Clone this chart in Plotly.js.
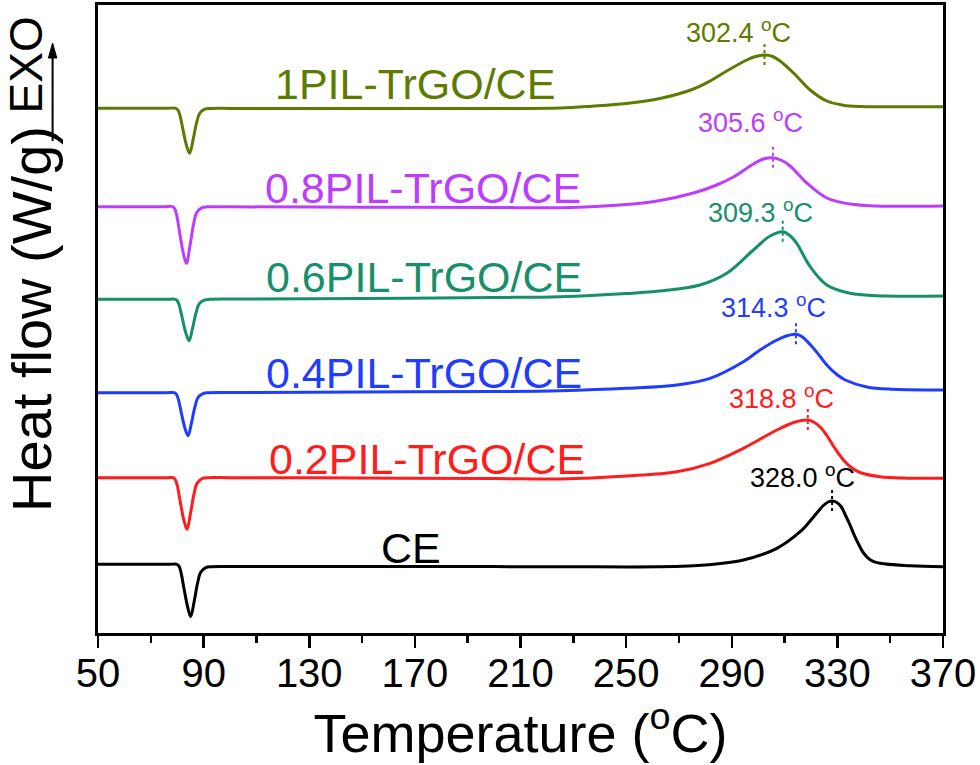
<!DOCTYPE html>
<html><head><meta charset="utf-8">
<script src="https://cdn.plot.ly/plotly-3.0.1.min.js"></script>
<style>html,body{margin:0;padding:0;background:#fff;} #chart{width:980px;height:765px;}</style>
</head><body><div id="chart"></div>
<script>
// ---- data (heat flow in offset units) ----
const seriesNames = ['1PIL-TrGO/CE', '0.8PIL-TrGO/CE', '0.6PIL-TrGO/CE', '0.4PIL-TrGO/CE', '0.2PIL-TrGO/CE', 'CE'];
const peakTemps = [302.4, 305.6, 309.3, 314.3, 318.8, 328.0];

const temp1PIL = [50, 65, 76, 79.5, 80.3, 81.0, 82.2, 83.5, 84.7, 86.0, 87.3, 88.5, 90.4, 92.7, 100, 150, 200, 225, 237, 250, 262.8, 275.5, 281.8, 288.1, 295.7, 299.0, 302.4, 305.5, 308.3, 313.4, 319.7, 326.0, 332.3, 338.6, 350, 370];
const flow1PIL = [5.247, 5.247, 5.247, 5.247, 5.229, 5.180, 5.031, 4.878, 4.797, 4.932, 5.098, 5.197, 5.238, 5.245, 5.246, 5.246, 5.246, 5.250, 5.268, 5.295, 5.345, 5.440, 5.520, 5.620, 5.730, 5.765, 5.780, 5.765, 5.720, 5.600, 5.430, 5.320, 5.278, 5.265, 5.263, 5.263];

const temp08PIL = [50, 65, 75, 78.3, 79.1, 79.8, 81.0, 82.3, 83.5, 84.8, 86.1, 87.3, 89.2, 91.5, 100, 150, 200, 225, 250.2, 262.8, 275.5, 284.3, 290.6, 298.2, 302.0, 305.6, 309.0, 312.1, 318.4, 326.0, 334.8, 345, 370];
const flow08PIL = [4.263, 4.263, 4.263, 4.263, 4.240, 4.178, 3.991, 3.799, 3.697, 3.867, 4.076, 4.201, 4.252, 4.262, 4.262, 4.258, 4.255, 4.253, 4.285, 4.325, 4.400, 4.480, 4.560, 4.690, 4.740, 4.753, 4.725, 4.670, 4.500, 4.350, 4.290, 4.270, 4.270];

const temp06PIL = [50, 65, 76, 79.3, 80.1, 80.8, 82.0, 83.3, 84.5, 85.8, 87.1, 88.3, 90.2, 92.5, 100, 150, 200, 225, 250.2, 262.8, 278.0, 288.1, 298.2, 304.5, 309.3, 312.0, 314.6, 319.7, 326.0, 334.8, 345, 370];
const flow06PIL = [3.337, 3.337, 3.337, 3.337, 3.320, 3.275, 3.138, 2.998, 2.923, 3.047, 3.200, 3.291, 3.329, 3.337, 3.340, 3.345, 3.355, 3.363, 3.395, 3.420, 3.480, 3.597, 3.830, 3.970, 4.013, 3.975, 3.897, 3.663, 3.480, 3.397, 3.373, 3.370];

const temp04PIL = [50, 65, 76, 78.9, 79.7, 80.4, 81.6, 82.9, 84.1, 85.4, 86.7, 87.9, 89.8, 92.1, 100, 150, 200, 225, 250.2, 269.2, 281.8, 294.4, 300.7, 307.1, 310.9, 314.3, 316.5, 319.7, 323.5, 326.0, 329.8, 333.0, 341.2, 351.3, 370];
const flow04PIL = [2.403, 2.403, 2.403, 2.403, 2.386, 2.339, 2.197, 2.050, 1.973, 2.102, 2.261, 2.356, 2.394, 2.403, 2.405, 2.410, 2.415, 2.423, 2.447, 2.480, 2.547, 2.713, 2.830, 2.930, 2.973, 2.987, 2.965, 2.885, 2.765, 2.680, 2.585, 2.530, 2.460, 2.437, 2.430];

const temp02PIL = [50, 65, 76, 78.5, 79.3, 80.0, 81.2, 82.5, 83.7, 85.0, 86.3, 87.5, 89.4, 91.7, 100, 150, 200, 225, 250.2, 269.2, 281.8, 294.4, 307.1, 313.4, 316.5, 318.8, 321.0, 323.5, 326.0, 329.0, 332.3, 335.5, 338.6, 346.2, 370];
const flow02PIL = [1.553, 1.553, 1.553, 1.553, 1.532, 1.476, 1.305, 1.130, 1.037, 1.192, 1.383, 1.496, 1.543, 1.553, 1.553, 1.550, 1.545, 1.540, 1.570, 1.613, 1.697, 1.847, 2.030, 2.105, 2.125, 2.130, 2.110, 2.060, 1.975, 1.850, 1.730, 1.650, 1.605, 1.563, 1.547];

const tempCE = [50, 65, 77, 79.9, 80.7, 81.4, 82.6, 83.9, 85.1, 86.4, 87.7, 88.9, 90.8, 93.1, 100, 150, 200, 225, 275.5, 294.4, 307.1, 315.9, 320.0, 322.2, 324.7, 326.5, 328.0, 329.8, 331.5, 333.2, 334.8, 336.1, 338.0, 339.9, 342.5, 346.2, 357.6, 370];
const flowCE = [0.687, 0.687, 0.687, 0.687, 0.667, 0.608, 0.440, 0.267, 0.163, 0.313, 0.498, 0.608, 0.653, 0.663, 0.665, 0.665, 0.664, 0.663, 0.672, 0.730, 0.847, 1.013, 1.130, 1.200, 1.275, 1.310, 1.320, 1.305, 1.260, 1.170, 1.080, 0.997, 0.890, 0.800, 0.730, 0.697, 0.673, 0.663];

const xTickVals = [50, 90, 130, 170, 210, 250, 290, 330, 370];

// ---- styling ----
const FONT = 'Liberation Sans, Arial, Helvetica, sans-serif';
const colors = ['#5d7b00', '#bd3dff', '#16906a', '#1f3dff', '#ff1c1c', '#000000'];
const temps = [temp1PIL, temp08PIL, temp06PIL, temp04PIL, temp02PIL, tempCE];
const flows = [flow1PIL, flow08PIL, flow06PIL, flow04PIL, flow02PIL, flowCE];

const traces = seriesNames.map((name, i) => ({
  type: 'scatter', mode: 'lines', name: name,
  x: temps[i], y: flows[i],
  line: {color: colors[i], width: 3, shape: 'spline', smoothing: 1},
  hoverinfo: 'x+y+name'
}));

// peak heat-flow values taken from the series themselves
const peakFlows = flows.map((f, i) => {
  let best = -Infinity;
  temps[i].forEach((t, j) => { if (t > 250 && f[j] > best) best = f[j]; });
  return best;
});

// curve labels (position: centre temperature / heat-flow level)
const labelPos = [[170.0, 5.492], [172.9, 4.455], [173.6, 3.565], [173.4, 2.600], [174.7, 1.742], [168.5, 0.850]];
// peak label placement (pixel offsets from the peak point)
const peakLabelLeft = [-80, -77, -77, -77, -81, -84];
const peakLabelLift = [13.3, 26, 10, 17, 11.7, 14.3];

const annotations = [];
seriesNames.forEach((name, i) => {
  annotations.push({
    xref: 'x', yref: 'y', x: labelPos[i][0], y: labelPos[i][1],
    text: name, showarrow: false, xanchor: 'center', yanchor: 'middle',
    font: {family: FONT, size: 43, color: colors[i]}
  });
  annotations.push({
    xref: 'x', yref: 'y', x: peakTemps[i], y: peakFlows[i],
    text: peakTemps[i].toFixed(1) + ' <sup>o</sup>C', showarrow: false,
    xanchor: 'left', yanchor: 'bottom',
    xshift: peakLabelLeft[i], yshift: peakLabelLift[i] - 8,
    font: {family: FONT, size: 27, color: colors[i]}
  });
});
annotations.push({
  xref: 'paper', yref: 'paper', x: -0.0852, y: 0.9037, text: 'EXO', textangle: -90,
  showarrow: false, xanchor: 'center', yanchor: 'middle',
  font: {family: FONT, size: 46, color: '#000'}
});

const shapes = [];
seriesNames.forEach((name, i) => {
  shapes.push({
    type: 'line', xref: 'x', yref: 'y',
    x0: peakTemps[i], x1: peakTemps[i], y0: peakFlows[i] - 0.10, y1: peakFlows[i] + 0.12,
    line: {color: colors[i], width: 2, dash: 'dot'}
  });
});
// EXO arrow
shapes.push({type: 'line', xref: 'paper', yref: 'paper', x0: -0.05373, x1: -0.05373, y0: 0.7834, y1: 0.922,
  line: {color: '#000', width: 2}});
shapes.push({type: 'path', xref: 'paper', yref: 'paper',
  path: 'M -0.05373 0.9395 L -0.05870 0.9156 L -0.04876 0.9156 Z',
  fillcolor: '#000', line: {color: '#000', width: 1}});

const layout = {
  width: 980, height: 765,
  margin: {l: 98, r: 37, t: 5, b: 132},
  paper_bgcolor: '#ffffff', plot_bgcolor: '#ffffff',
  showlegend: false,
  font: {family: FONT, color: '#000'},
  xaxis: {
    range: [50, 370], tickmode: 'array', tickvals: xTickVals, ticktext: xTickVals.map(String),
    ticks: 'outside', ticklen: 12, tickwidth: 2.5, tickcolor: '#000',
    ticklabelstandoff: -9,
    showline: true, linewidth: 3, linecolor: '#000', mirror: true,
    showgrid: false, zeroline: false,
    tickfont: {family: FONT, size: 40, color: '#000'},
    minor: {dtick: 20, tick0: 50, ticks: 'outside', ticklen: 7, tickwidth: 2.5, tickcolor: '#000', showgrid: false},
    title: {text: 'Temperature (<sup>o</sup>C)', font: {family: FONT, size: 54, color: '#000'}, standoff: 20}
  },
  yaxis: {
    range: [0, 6.28], showticklabels: false, ticks: '',
    showline: true, linewidth: 3, linecolor: '#000', mirror: true,
    showgrid: false, zeroline: false,
    title: {text: 'Heat flow (W/g)', font: {family: FONT, size: 56, color: '#000'}, standoff: 27}
  },
  annotations: annotations,
  shapes: shapes
};

Plotly.newPlot('chart', traces, layout, {displayModeBar: false, staticPlot: true});
</script>
</body></html>
